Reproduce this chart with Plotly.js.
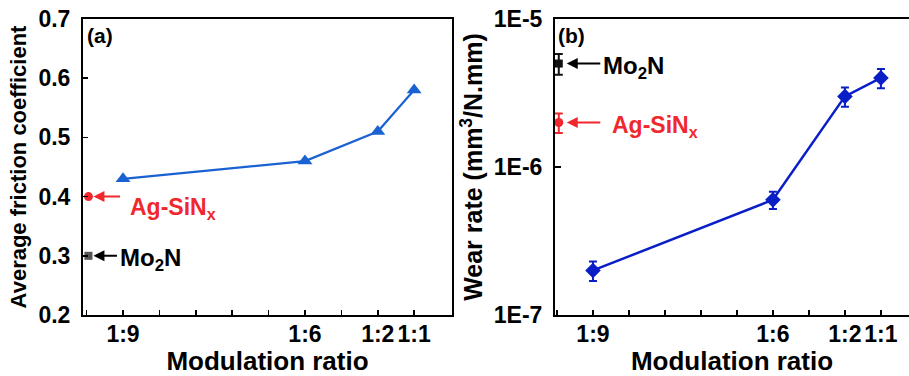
<!DOCTYPE html>
<html>
<head>
<meta charset="utf-8">
<script src="https://cdn.plot.ly/plotly-3.0.1.min.js"></script>
<style>
  html, body { margin: 0; padding: 0; background: #fff; }
  #chart { width: 909px; height: 376px; }
</style>
</head>
<body>
<div id="chart"></div>
<script>
// Multilayer films: modulation ratio categories and their position on the ratio axis
const ratioLabels = ['1:9', '1:6', '1:2', '1:1'];
const ratioX = [1, 6, 8, 9];

// (a) average friction coefficient
const frictionCoef = [0.43, 0.46, 0.51, 0.58];

// (b) wear rate, mm^3/(N.mm), with error bars
const wearRate = [2e-7, 6e-7, 3e-6, 4e-6];
const wearErr = [0.3e-7, 0.8e-7, 0.45e-6, 0.6e-6];

// Monolayer reference coatings
const refNames = ['Mo<sub>2</sub>N', 'Ag-SiN<sub>x</sub>'];
const refX = 0.05;
const refFriction = [0.3, 0.4];
const refWear = [5e-6, 2e-6];
const refWearErr = [0.8e-6, 0.3e-6];

const FONT = 'Liberation Sans, Arial, sans-serif';
const RED = '#f0282d';
const BLUE_A = '#1a62d2';
const BLUE_B = '#0a1ec8';

const tickPositions = [0, 1, 2, 3, 4, 5, 6, 7, 8, 9];
const tickText = tickPositions.map(p => {
  const i = ratioX.indexOf(p);
  return i >= 0 ? '<b>' + ratioLabels[i] + '</b>' : '';
});

const H = 376, W = 909;
const yDom = [1 - 315 / H, 1 - 19 / H];
const plotBWidth = W - 555;

// minor ticks for the log axis (2..9 within each decade), drawn as short inside dashes
const minorTicks = [];
for (let d = -7; d < -5; d++) {
  for (let m = 2; m <= 9; m++) {
    const v = Math.log10(m * Math.pow(10, d));
    minorTicks.push({
      type: 'line', xref: 'x2 domain', yref: 'y2',
      x0: 0, x1: 4 / plotBWidth, y0: v, y1: v,
      line: { color: '#000', width: 1.5 }
    });
  }
}

const traces = [
  {
    x: ratioX, y: frictionCoef, xaxis: 'x', yaxis: 'y',
    type: 'scatter', mode: 'lines+markers',
    line: { color: BLUE_A, width: 2.2 },
    marker: { symbol: 'triangle-up', size: 13, color: BLUE_A },
    cliponaxis: false
  },
  {
    x: [refX], y: [refFriction[0]], xaxis: 'x', yaxis: 'y',
    type: 'scatter', mode: 'markers',
    marker: { symbol: 'square', size: 8, color: '#555555' },
    cliponaxis: false
  },
  {
    x: [refX], y: [refFriction[1]], xaxis: 'x', yaxis: 'y',
    type: 'scatter', mode: 'markers',
    marker: { symbol: 'circle', size: 9, color: RED },
    cliponaxis: false
  },
  {
    x: ratioX, y: wearRate, xaxis: 'x2', yaxis: 'y2',
    type: 'scatter', mode: 'lines+markers',
    line: { color: BLUE_B, width: 2.5 },
    marker: { symbol: 'diamond', size: 12, color: BLUE_B },
    error_y: { type: 'data', array: wearErr, visible: true, color: BLUE_B, thickness: 2, width: 4 },
    cliponaxis: false
  },
  {
    x: [refX], y: [refWear[0]], xaxis: 'x2', yaxis: 'y2',
    type: 'scatter', mode: 'markers',
    marker: { symbol: 'square', size: 8, color: '#111111' },
    error_y: { type: 'data', array: [refWearErr[0]], visible: true, color: '#111111', thickness: 2, width: 4 },
    cliponaxis: false
  },
  {
    x: [refX], y: [refWear[1]], xaxis: 'x2', yaxis: 'y2',
    type: 'scatter', mode: 'markers',
    marker: { symbol: 'circle', size: 9, color: RED },
    error_y: { type: 'data', array: [refWearErr[1]], visible: true, color: RED, thickness: 2, width: 4 },
    cliponaxis: false
  }
];

const axisCommon = {
  showgrid: false, zeroline: false,
  showline: true, linecolor: '#000', linewidth: 2,
  ticks: 'inside', ticklen: 5, tickwidth: 1.5, tickcolor: '#000',
  tickfont: { family: FONT, size: 23, color: '#000' }
};

const layout = {
  width: W, height: H,
  margin: { l: 0, r: 0, t: 0, b: 0 },
  paper_bgcolor: '#fff', plot_bgcolor: '#fff',
  showlegend: false,
  font: { family: FONT, color: '#000' },
  xaxis: Object.assign({}, axisCommon, {
    domain: [83 / W, 452 / W], range: [-0.1, 10.04],
    tickmode: 'array', tickvals: tickPositions, ticktext: tickText,
    mirror: true, anchor: 'y', ticklabelstandoff: -3,
    title: { text: '<b>Modulation ratio</b>', font: { family: FONT, size: 26 }, standoff: 7 }
  }),
  yaxis: Object.assign({}, axisCommon, {
    domain: yDom, range: [0.2, 0.7],
    tickmode: 'array', tickvals: [0.2, 0.3, 0.4, 0.5, 0.6, 0.7],
    ticktext: ['<b>0.2</b>', '<b>0.3</b>', '<b>0.4</b>', '<b>0.5</b>', '<b>0.6</b>', '<b>0.7</b>'],
    mirror: true, anchor: 'x', ticklabelstandoff: 6,
    title: { text: '<b>Average friction coefficient</b>', font: { family: FONT, size: 22 }, standoff: 6 }
  }),
  xaxis2: Object.assign({}, axisCommon, {
    domain: [555 / W, 1], range: [-0.055, 9.78],
    tickmode: 'array', tickvals: tickPositions, ticktext: tickText,
    mirror: true, anchor: 'y2', ticklabelstandoff: -3,
    title: { text: '<b>Modulation ratio</b>', font: { family: FONT, size: 26 }, standoff: 7 }
  }),
  yaxis2: Object.assign({}, axisCommon, {
    domain: yDom, type: 'log', range: [-7, -5],
    tickmode: 'array', tickvals: [1e-7, 1e-6, 1e-5],
    ticktext: ['<b>1E-7</b>', '<b>1E-6</b>', '<b>1E-5</b>'],
    ticklen: 6,
    mirror: false, anchor: 'x2', ticklabelstandoff: 6,
    title: { text: '<b>Wear rate (mm<sup>3</sup>/N.mm)</b>', font: { family: FONT, size: 25 }, standoff: 4 }
  }),
  shapes: minorTicks,
  annotations: [
    // panel tags
    { xref: 'paper', yref: 'paper', x: 85 / W, y: 1 - 22 / H, xanchor: 'left', yanchor: 'top',
      text: '<b>(a)</b>', showarrow: false, font: { family: FONT, size: 21, color: '#000' } },
    { xref: 'paper', yref: 'paper', x: 556 / W, y: 1 - 22 / H, xanchor: 'left', yanchor: 'top',
      text: '<b>(b)</b>', showarrow: false, font: { family: FONT, size: 21, color: '#000' } },

    // (a) reference arrows and labels
    { xref: 'x', yref: 'y', x: refX, y: refFriction[0], ax: 30, ay: 0, text: '',
      showarrow: true, arrowhead: 2, arrowsize: 1.1, arrowwidth: 2, arrowcolor: '#000', standoff: 5 },
    { xref: 'x', yref: 'y', x: refX, y: refFriction[0], xanchor: 'left', xshift: 30, yshift: -4,
      text: '<b>' + refNames[0] + '</b>', showarrow: false, font: { family: FONT, size: 24, color: '#000' } },
    { xref: 'x', yref: 'y', x: refX, y: refFriction[1], ax: 33, ay: 0, text: '',
      showarrow: true, arrowhead: 2, arrowsize: 1.1, arrowwidth: 2, arrowcolor: RED, standoff: 5 },
    { xref: 'x', yref: 'y', x: refX, y: refFriction[1], xanchor: 'left', xshift: 40, yshift: -12,
      text: '<b>' + refNames[1] + '</b>', showarrow: false, font: { family: FONT, size: 23, color: RED } },

    // (b) reference arrows and labels
    { xref: 'x2', yref: 'y2', x: refX, y: Math.log10(refWear[0]), ax: 43, ay: 0, text: '',
      showarrow: true, arrowhead: 2, arrowsize: 1.1, arrowwidth: 2, arrowcolor: '#000', standoff: 8 },
    { xref: 'x2', yref: 'y2', x: refX, y: Math.log10(refWear[0]), xanchor: 'left', xshift: 42, yshift: -4,
      text: '<b>' + refNames[0] + '</b>', showarrow: false, font: { family: FONT, size: 24, color: '#000' } },
    { xref: 'x2', yref: 'y2', x: refX, y: Math.log10(refWear[1]), ax: 43, ay: 0, text: '',
      showarrow: true, arrowhead: 2, arrowsize: 1.1, arrowwidth: 2, arrowcolor: RED, standoff: 8 },
    { xref: 'x2', yref: 'y2', x: refX, y: Math.log10(refWear[1]), xanchor: 'left', xshift: 51, yshift: -4,
      text: '<b>' + refNames[1] + '</b>', showarrow: false, font: { family: FONT, size: 23, color: RED } }
  ]
};

Plotly.newPlot('chart', traces, layout, { displayModeBar: false, staticPlot: true });
</script>
</body>
</html>
